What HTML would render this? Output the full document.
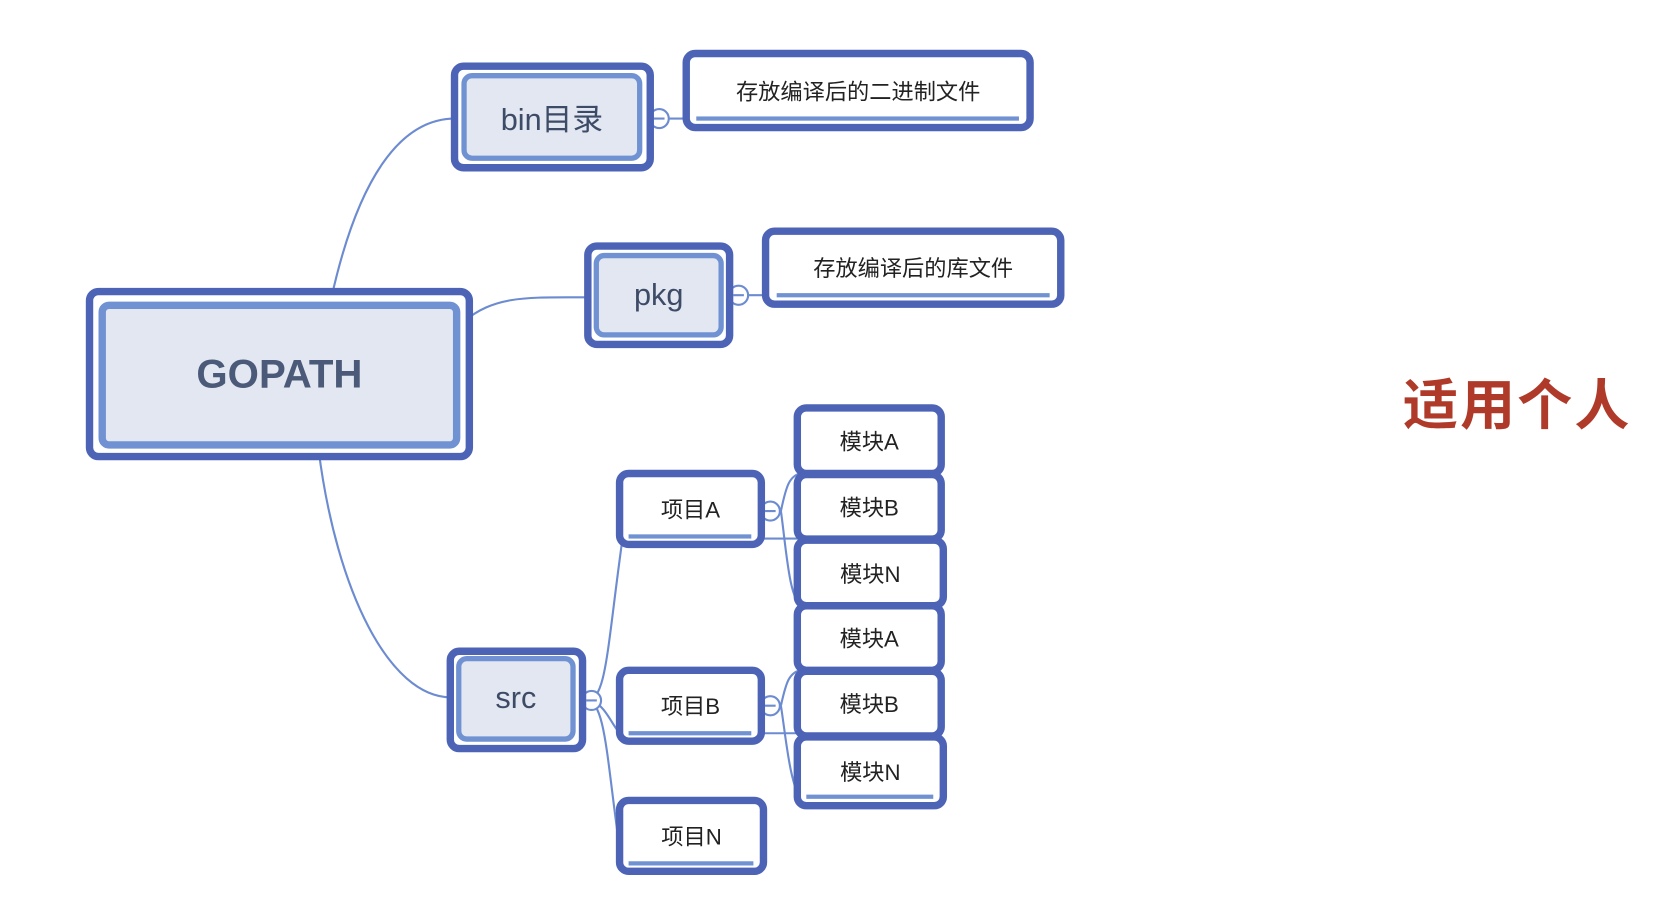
<!DOCTYPE html>
<html><head><meta charset="utf-8"><style>
body{margin:0;width:1658px;height:904px;background:#fff;position:relative;overflow:hidden;font-family:"Liberation Sans","Noto Sans CJK SC",sans-serif;}
#w{position:absolute;left:-2px;top:-1px;width:1560px;height:851px;transform:scale(1.058);transform-origin:0 0;}
.b{position:absolute;box-sizing:border-box;border:7px solid #4c63b6;border-radius:12px;background:#fff;}
.in{position:absolute;box-sizing:border-box;border:5px solid #7092d3;border-radius:10px;background:#e2e7f2;display:flex;align-items:center;justify-content:center;color:#3d4b66;}
.t{position:absolute;display:flex;align-items:center;justify-content:center;color:#222;font-size:21px;}
.u{position:absolute;height:4px;background:#7092d3;}
</style></head><body><div id="w">
<svg width="1560" height="851" style="position:absolute;left:0;top:0" fill="none" stroke="#6c8bd0" stroke-width="2">
<path d="M315 283 C340 170 380 113 432 113"/>
<path d="M440 305 C470 280 500 282 556 282"/>
<path d="M303 426 C320 560 370 660 428 660"/>
<path d="M556 663 C575 663 575 620 590 512"/>
<path d="M556 663 C575 663 580 690 590 695"/>
<path d="M556 663 C575 663 575 720 590 820"/>
<path d="M612 113 L648 113"/><path d="M688 280 L724 280"/>
<path d="M720 510 L760 510"/><path d="M740 484 C745 460 748 450 760 448"/><path d="M740 484 C745 520 748 570 760 573"/>
<path d="M720 694 L760 694"/><path d="M740 668 C745 645 748 636 760 634"/><path d="M740 668 C745 700 748 740 760 760"/>
<circle cx="625" cy="113" r="9" fill="#fff"/><circle cx="700" cy="280" r="9" fill="#fff"/><circle cx="561" cy="663" r="9" fill="#fff"/><circle cx="730" cy="484" r="9" fill="#fff"/><circle cx="730" cy="668" r="9" fill="#fff"/>
<path d="M620 113h10M695 280h10M556 663h10M725 484h10M725 668h10"/>
</svg>

<div class="b" style="left:83px;top:273px;width:366px;height:163px"></div>
<div class="in" style="left:95px;top:286px;width:342px;height:139px;border-width:7px;font-size:38px;font-weight:bold;color:#4a5a78">GOPATH</div>

<div class="b" style="left:428px;top:60px;width:192px;height:103px"></div>
<div class="in" style="left:438px;top:70px;width:171px;height:83px;font-size:29px">bin目录</div>

<div class="b" style="left:554px;top:230px;width:141px;height:100px"></div>
<div class="in" style="left:563px;top:240px;width:123px;height:80px;font-size:29px">pkg</div>

<div class="b" style="left:424px;top:613px;width:132px;height:99px"></div>
<div class="in" style="left:433px;top:621px;width:113px;height:81px;font-size:29px">src</div>

<div class="b t" style="left:647px;top:48px;width:332px;height:77px">存放编译后的二进制文件</div><div class="u" style="left:660px;top:111px;width:305px"></div>
<div class="b t" style="left:722px;top:216px;width:286px;height:76px">存放编译后的库文件</div><div class="u" style="left:736px;top:278px;width:258px"></div>

<div class="b t" style="left:584px;top:445px;width:141px;height:74px">项目A</div><div class="u" style="left:596px;top:506px;width:116px"></div>
<div class="b t" style="left:584px;top:631px;width:141px;height:74px">项目B</div><div class="u" style="left:596px;top:692px;width:116px"></div>
<div class="b t" style="left:584px;top:754px;width:143px;height:74px">项目N</div><div class="u" style="left:596px;top:815px;width:118px"></div>

<div class="b t" style="left:752px;top:383px;width:143px;height:69px">模块A</div>
<div class="b t" style="left:752px;top:446px;width:143px;height:68px">模块B</div>
<div class="b t" style="left:752px;top:508px;width:145px;height:69px">模块N</div>
<div class="b t" style="left:752px;top:570px;width:143px;height:68px">模块A</div>
<div class="b t" style="left:752px;top:632px;width:143px;height:68px">模块B</div>
<div class="b t" style="left:752px;top:694px;width:145px;height:72px">模块N</div>
<div class="u" style="left:764px;top:752px;width:120px"></div>

<div style="position:absolute;left:1328px;top:352px;font-size:52px;font-weight:bold;color:#b03a2a;letter-spacing:2px;line-height:66px">适用个人</div>
</div></body></html>
